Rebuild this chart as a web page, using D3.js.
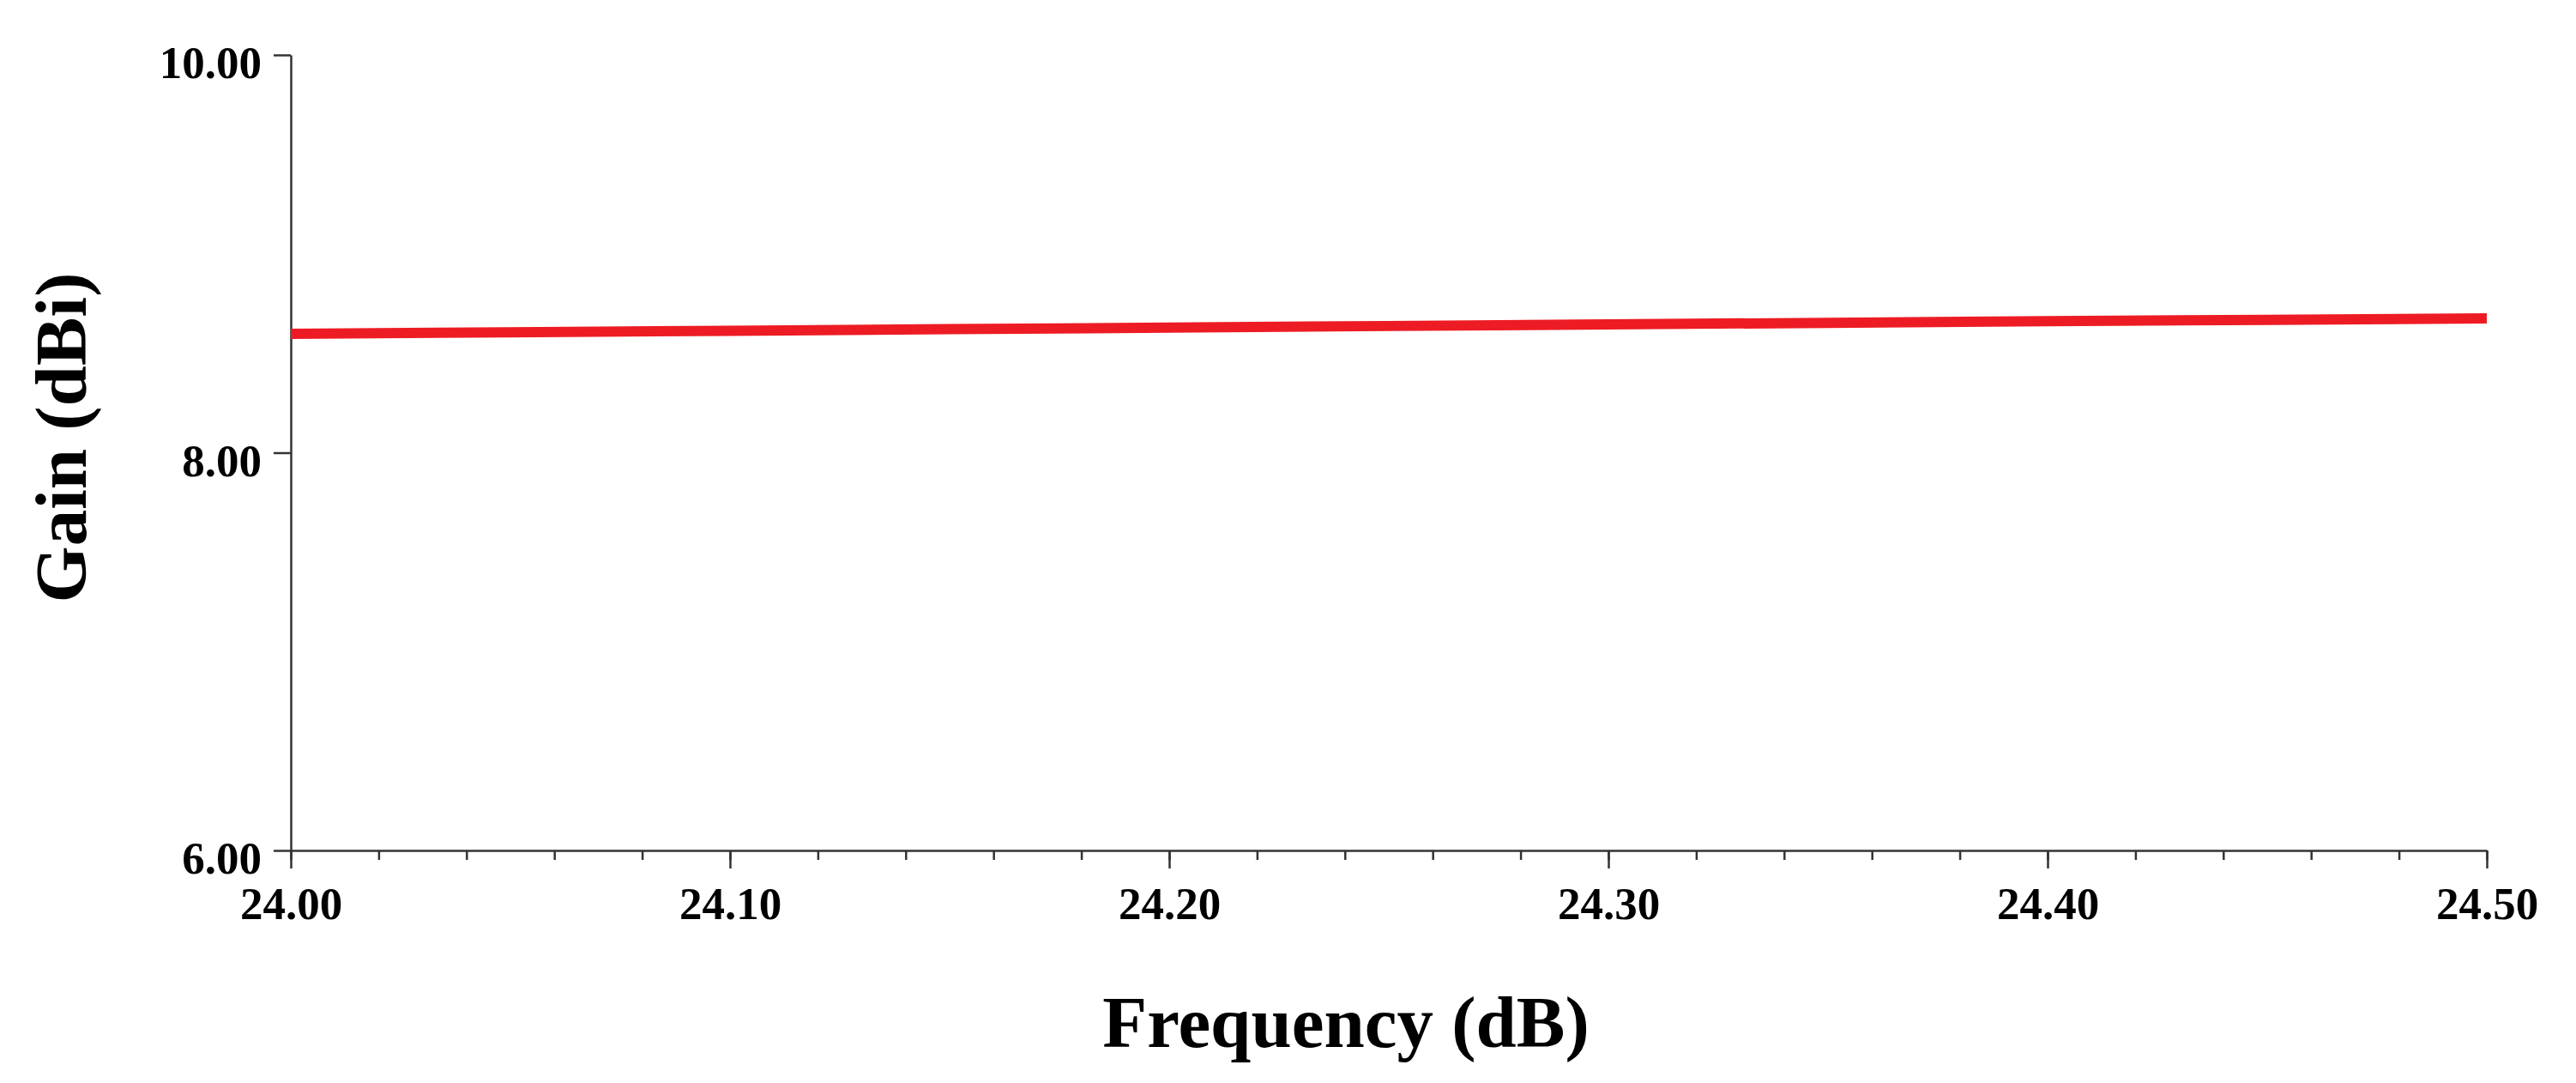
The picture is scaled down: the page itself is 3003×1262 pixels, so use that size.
<!DOCTYPE html>
<html>
<head>
<meta charset="utf-8">
<script src="https://cdn.jsdelivr.net/npm/d3@7"></script>
<style>
  html, body { margin: 0; padding: 0; background: #fff; }
</style>
</head>
<body>
<svg id="chart"></svg>
<script>
// data
const freq = [24.00, 24.05, 24.10, 24.15, 24.20, 24.25, 24.30, 24.35, 24.40, 24.45, 24.50];
const gain = [8.598, 8.605, 8.613, 8.621, 8.629, 8.637, 8.645, 8.653, 8.661, 8.668, 8.675];
const xTicks = [24.0, 24.1, 24.2, 24.3, 24.4, 24.5];
const yTicks = [6, 8, 10];

const width = 3003;
const height = 1262;
const margin = { top: 64, right: 104, bottom: 271, left: 339 };
const visWidth = width - margin.left - margin.right;
const visHeight = height - margin.top - margin.bottom;

const axisColor = "#333";
const font = "'Liberation Serif', 'Times New Roman', serif";

const svg = d3.select("#chart")
  .attr("width", width)
  .attr("height", height);

const g = svg.append("g")
  .attr("transform", `translate(${margin.left}, ${margin.top})`);

// scales
const x = d3.scaleLinear().domain([24.0, 24.5]).range([0, visWidth]);
const y = d3.scaleLinear().domain([6, 10]).range([visHeight, 0]);

// minor ticks on x, every 0.02
const minor = d3.range(0, 26).map((i) => 24 + i * 0.02);
g.append("g")
  .attr("transform", `translate(0,${visHeight})`)
  .call(d3.axisBottom(x).tickValues(minor).tickSize(11).tickFormat(""))
  .call((g) => g.select(".domain").remove())
  .call((g) => g.selectAll("line").attr("stroke", axisColor).attr("stroke-width", 2.5));

// x axis
g.append("g")
  .attr("transform", `translate(0,${visHeight})`)
  .call(d3.axisBottom(x).tickValues(xTicks).tickSize(21).tickSizeOuter(0).tickPadding(21)
    .tickFormat(d3.format(".2f")))
  .call((g) => g.select(".domain").attr("stroke", axisColor).attr("stroke-width", 2.5))
  .call((g) => g.selectAll("line").attr("stroke", axisColor).attr("stroke-width", 2.5))
  .call((g) => g.selectAll("text")
    .attr("fill", "#000")
    .attr("font-family", font)
    .attr("font-weight", "bold")
    .attr("font-size", 53));

// y axis
g.append("g")
  .call(d3.axisLeft(y).tickValues(yTicks).tickSize(20).tickSizeOuter(0).tickPadding(14)
    .tickFormat(d3.format(".2f")))
  .call((g) => g.select(".domain").attr("stroke", axisColor).attr("stroke-width", 2.5))
  .call((g) => g.selectAll("line").attr("stroke", axisColor).attr("stroke-width", 2.5))
  .call((g) => g.selectAll("text")
    .attr("fill", "#000")
    .attr("dy", "0.5em")
    .attr("font-family", font)
    .attr("font-weight", "bold")
    .attr("font-size", 53));

// gain line
const line = d3.line()
  .x((d, i) => x(freq[i]))
  .y((d) => y(d));

g.append("path")
  .datum(gain)
  .attr("fill", "none")
  .attr("stroke", "#ED1C24")
  .attr("stroke-width", 12)
  .attr("stroke-linecap", "butt")
  .attr("d", line);

// axis titles
svg.append("text")
  .attr("x", 1569)
  .attr("y", 1220)
  .attr("text-anchor", "middle")
  .attr("font-family", font)
  .attr("font-weight", "bold")
  .attr("font-size", 85)
  .attr("fill", "#000")
  .text("Frequency (dB)");

svg.append("text")
  .attr("transform", "translate(100, 510) rotate(-90)")
  .attr("text-anchor", "middle")
  .attr("font-family", font)
  .attr("font-weight", "bold")
  .attr("font-size", 85)
  .attr("fill", "#000")
  .text("Gain (dBi)");
</script>
</body>
</html>
